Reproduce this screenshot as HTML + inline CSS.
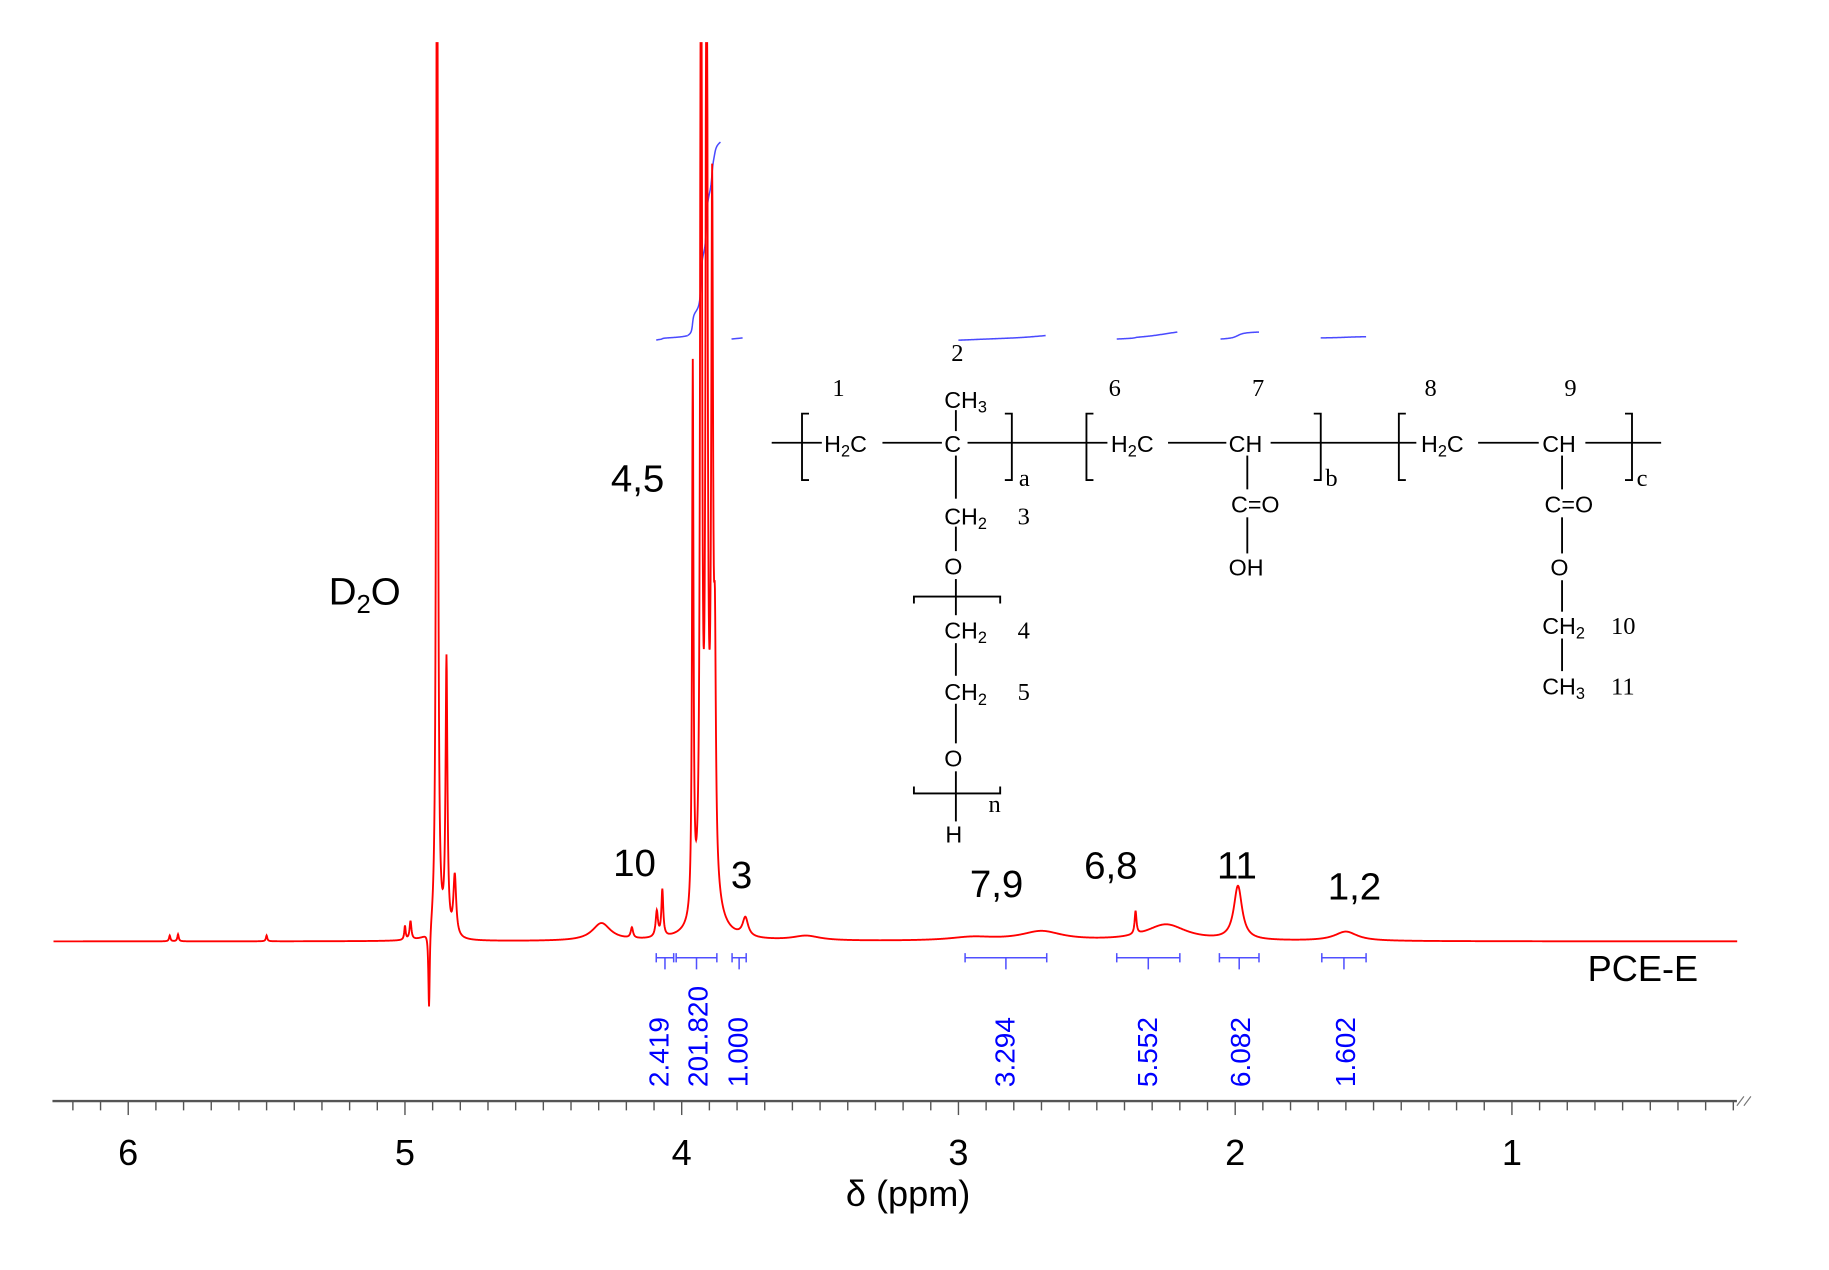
<!DOCTYPE html>
<html><head><meta charset="utf-8"><style>
html,body{margin:0;padding:0;background:#fff;width:1829px;height:1270px;overflow:hidden}
svg{display:block}
.ax{font-family:"Liberation Sans",sans-serif;fill:#000}
.st{font-family:"Liberation Serif",serif;fill:#000;font-size:21px}
.sb{font-family:"Liberation Sans",sans-serif;fill:#000;font-size:20px}
</style></head><body>
<svg id="chart" width="1829" height="1270" viewBox="0 0 1569 1090" preserveAspectRatio="none" xmlns="http://www.w3.org/2000/svg">
<g id="axis"></g>
<g id="integrals"></g>
<path id="spec" fill="none" stroke="#ff0000" stroke-width="1.6"/>
<g id="labels" class="ax" font-size="33">
<text x="282" y="519">D<tspan font-size="22" dy="7">2</tspan><tspan dy="-7">O</tspan></text>
<text x="524" y="422">4,5</text>
<text x="526" y="752">10</text>
<text x="627" y="762">3</text>
<text x="832" y="770">7,9</text>
<text x="930" y="754">6,8</text>
<text x="1044" y="754">11</text>
<text x="1139" y="772">1,2</text>
<text x="1362" y="842" font-size="31">PCE-E</text>
</g>
<g id="structure" stroke="#000" stroke-width="1.6">
<line x1="662" y1="380" x2="705" y2="380"/><line x1="757" y1="380" x2="808" y2="380"/><line x1="830" y1="380" x2="950" y2="380"/>
<line x1="1002" y1="380" x2="1052" y2="380"/><line x1="1090" y1="380" x2="1215" y2="380"/><line x1="1268" y1="380" x2="1320" y2="380"/><line x1="1360" y1="380" x2="1425" y2="380"/>
<path d="M694 355 h-6 v57 h6 M862 355 h6 v57 h-6 M938 355 h-6 v57 h6 M1127 355 h6 v57 h-6 M1206 355 h-6 v57 h6 M1394 355 h6 v57 h-6" fill="none"/>
<line x1="820" y1="352" x2="820" y2="370"/><line x1="820" y1="391" x2="820" y2="428"/><line x1="820" y1="452" x2="820" y2="473"/><line x1="820" y1="497" x2="820" y2="528"/>
<line x1="820" y1="552" x2="820" y2="580"/><line x1="820" y1="604" x2="820" y2="638"/><line x1="820" y1="662" x2="820" y2="705"/>
<path d="M784 518 v-6 h74 v6 M784 675 v6 h74 v-6" fill="none"/>
<line x1="1070" y1="391" x2="1070" y2="420"/><line x1="1070" y1="444" x2="1070" y2="475"/>
<line x1="1340" y1="391" x2="1340" y2="420"/><line x1="1340" y1="444" x2="1340" y2="475"/><line x1="1340" y1="498" x2="1340" y2="525"/><line x1="1340" y1="548" x2="1340" y2="576"/>
</g>
<g class="sb">
<text x="707" y="388">H<tspan font-size="14" dy="4">2</tspan><tspan dy="-4">C</tspan></text>
<text x="810" y="388">C</text><text x="810" y="350">CH<tspan font-size="14" dy="4">3</tspan></text>
<text x="810" y="450">CH<tspan font-size="14" dy="4">2</tspan></text><text x="810" y="493">O</text>
<text x="810" y="548">CH<tspan font-size="14" dy="4">2</tspan></text><text x="810" y="601">CH<tspan font-size="14" dy="4">2</tspan></text>
<text x="810" y="658">O</text><text x="811" y="723">H</text>
<text x="953" y="388">H<tspan font-size="14" dy="4">2</tspan><tspan dy="-4">C</tspan></text><text x="1054" y="388">CH</text>
<text x="1056" y="440">C=O</text><text x="1054" y="494">OH</text>
<text x="1219" y="388">H<tspan font-size="14" dy="4">2</tspan><tspan dy="-4">C</tspan></text><text x="1323" y="388">CH</text>
<text x="1325" y="440">C=O</text><text x="1330" y="494">O</text>
<text x="1323" y="544">CH<tspan font-size="14" dy="4">2</tspan></text><text x="1323" y="596">CH<tspan font-size="14" dy="4">3</tspan></text>
</g>
<g class="st">
<text x="714" y="340">1</text><text x="816" y="310">2</text><text x="951" y="340">6</text><text x="1074" y="340">7</text><text x="1222" y="340">8</text><text x="1342" y="340">9</text>
<text x="873" y="450">3</text><text x="873" y="548">4</text><text x="873" y="601">5</text><text x="1382" y="544">10</text><text x="1382" y="596">11</text>
<text x="874" y="417">a</text><text x="1137" y="417">b</text><text x="1404" y="417">c</text><text x="848" y="697">n</text>
</g>
</svg>
<script>
// spectrum peaks (ppm, height in display px above baseline, half-width ppm)
const peakPpm = [4.884,4.850,4.820,4.913,4.98,5.00,4.29,4.18,4.09,4.07,3.96,3.93,3.91,3.89,3.88,3.90,3.77,3.55,2.95,2.70,2.36,2.25,1.99,1.60,5.82,5.85,5.50];
const peakH   = [1200,235,52,-70,16,12,15,9,22,40,470,1200,1200,560,170,55,16,4,3,8,20,14,46,8,6,5,5];
const peakW   = [0.003,0.004,0.006,0.003,0.004,0.003,0.04,0.005,0.005,0.004,0.003,0.003,0.003,0.004,0.004,0.03,0.012,0.06,0.1,0.09,0.004,0.09,0.018,0.05,0.003,0.003,0.003];
// integrals
const intStart = [4.092,3.978,3.82,3.00,2.428,2.053,1.691];
const intEnd   = [3.978,3.860,3.78,2.685,2.209,1.914,1.527];
const intLevel0= [516,520,517,516,517,517,518];
const intLevel1= [520,686,518,520,523,523,519];
const brkStart = [4.092,4.020,3.818,2.976,2.428,2.057,1.687];
const brkEnd   = [4.029,3.873,3.767,2.681,2.200,1.914,1.527];
const intValues= ["2.419","201.820","1.000","3.294","5.552","6.082","1.602"];
const labelPpm = [4.085,3.945,3.800,2.835,2.320,1.985,1.605];
const tickLabels=[6,5,4,3,2,1];

const NS="http://www.w3.org/2000/svg";
const X=p=>110+(6-p)*237.4;
const BASE=808, TOP=37;
const Y=h=>Math.max(TOP,BASE-h);
function spec(p){let s=0;for(let i=0;i<peakPpm.length;i++){const d=(p-peakPpm[i])/peakW[i];s+=peakH[i]/(1+d*d);}return s;}
let d="";
for(let p=6.27;p>=0.185;p-=0.001){d+=(d?"L":"M")+X(p).toFixed(2)+" "+Y(spec(p)).toFixed(2);}
document.getElementById('spec').setAttribute('d',d);

const integ=document.getElementById('integrals');
for(let i=0;i<intStart.length;i++){
  const n=80,vals=[];let c=0;
  for(let k=0;k<=n;k++){const p=intStart[i]+(intEnd[i]-intStart[i])*k/n;c+=Math.max(0,spec(p));vals.push(c);}
  let pd="";
  for(let k=0;k<=n;k++){const p=intStart[i]+(intEnd[i]-intStart[i])*k/n;const f=vals[n]?vals[k]/vals[n]:k/n;
    const lv=intLevel0[i]+(intLevel1[i]-intLevel0[i])*f;pd+=(pd?"L":"M")+X(p).toFixed(2)+" "+(BASE-lv).toFixed(2);}
  const pa=document.createElementNS(NS,'path');
  
  
  pa.setAttribute('d',pd);pa.setAttribute('fill','none');pa.setAttribute('stroke','#4a4aff');pa.setAttribute('stroke-width','1.3');
  integ.appendChild(pa);
  const x1=X(brkStart[i]),x2=X(brkEnd[i]),xm=(x1+x2)/2;
  const br=document.createElementNS(NS,'path');
  
  
  br.setAttribute('d',`M${x1} 818v8M${x1} 822H${x2}M${x2} 818v8M${xm} 822v10`);
  br.setAttribute('stroke','#5050ff');br.setAttribute('stroke-width','1.3');br.setAttribute('fill','none');
  integ.appendChild(br);
  const t=document.createElementNS(NS,'text');
  
  
  const lx=X(labelPpm[i])+9;
  t.setAttribute('transform',`translate(${lx},933) rotate(-90)`);
  t.setAttribute('font-family','Liberation Sans, sans-serif');t.setAttribute('font-size','24');t.setAttribute('fill','#0000ff');
  t.textContent=intValues[i];integ.appendChild(t);
}

const ax=document.getElementById('axis');
const line=document.createElementNS(NS,'line');


line.setAttribute('x1',45);line.setAttribute('x2',1490);line.setAttribute('y1',945);line.setAttribute('y2',945);
line.setAttribute('stroke','#555');line.setAttribute('stroke-width','2');ax.appendChild(line);
for(let k=62;k>=2;k--){const p=k/10;const x=X(p);if(x<45||x>1490)continue;
  const tk=document.createElementNS(NS,'line');
  
  
  tk.setAttribute('x1',x);tk.setAttribute('x2',x);tk.setAttribute('y1',945);tk.setAttribute('y2',k%10===0?957:953);
  tk.setAttribute('stroke','#555');tk.setAttribute('stroke-width','1.2');ax.appendChild(tk);}
for(const v of tickLabels){const t=document.createElementNS(NS,'text');
  
  
  t.setAttribute('x',X(v));t.setAttribute('y',1000);t.setAttribute('text-anchor','middle');t.setAttribute('class','ax');t.setAttribute('font-size','31');
  t.textContent=v;ax.appendChild(t);}
const ttl=document.createElementNS(NS,'text');


ttl.setAttribute('x',779);ttl.setAttribute('y',1035);ttl.setAttribute('text-anchor','middle');ttl.setAttribute('class','ax');ttl.setAttribute('font-size','31');
ttl.textContent='δ (ppm)';ax.appendChild(ttl);
const brk=document.createElementNS(NS,'path');


brk.setAttribute('d','M1490 949l6-8M1496 949l6-8');brk.setAttribute('stroke','#777');brk.setAttribute('stroke-width','1');ax.appendChild(brk);
</script>
</body></html>
